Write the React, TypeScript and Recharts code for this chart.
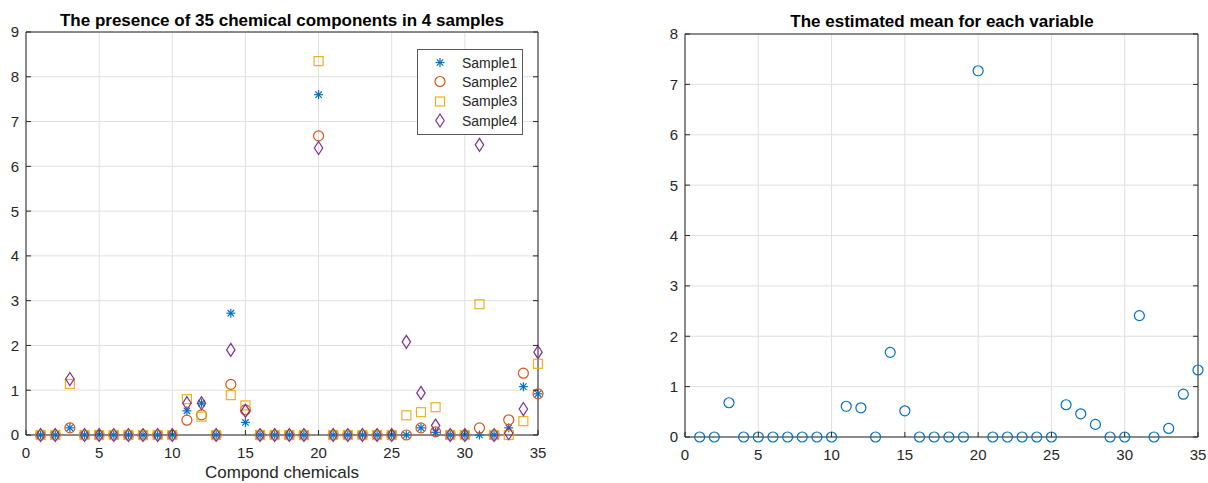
import React from 'react'
import { ScatterChart, Scatter, XAxis, YAxis, CartesianGrid, Legend } from 'recharts'

const compounds = [
  1, 2, 3, 4, 5, 6, 7, 8, 9, 10, 11, 12, 13, 14, 15, 16, 17, 18, 19, 20, 21, 22, 23, 24, 25, 26, 27, 28, 29, 30,
  31, 32, 33, 34, 35,
]

const sample1 = [
  0, 0, 0.16, 0, 0, 0, 0, 0, 0, 0, 0.54, 0.71, 0, 2.72, 0.28, 0, 0, 0, 0, 7.6, 0, 0, 0, 0, 0, 0, 0.16, 0.06, 0, 0,
  0, 0, 0.16, 1.08, 0.92,
]
const sample2 = [
  0, 0, 0.16, 0, 0, 0, 0, 0, 0, 0, 0.33, 0.45, 0, 1.13, 0.56, 0, 0, 0, 0, 6.68, 0, 0, 0, 0, 0, 0, 0.16, 0.07, 0, 0,
  0.16, 0, 0.34, 1.38, 0.92,
]
const sample3 = [
  0, 0, 1.14, 0, 0, 0, 0, 0, 0, 0, 0.8, 0.41, 0, 0.89, 0.66, 0, 0, 0, 0, 8.35, 0, 0, 0, 0, 0, 0.44, 0.51, 0.62, 0, 0,
  2.92, 0, 0, 0.31, 1.59,
]
const sample4 = [
  0, 0, 1.25, 0, 0, 0, 0, 0, 0, 0, 0.71, 0.71, 0, 1.9, 0.54, 0, 0, 0, 0, 6.41, 0, 0, 0, 0, 0, 2.08, 0.94, 0.21, 0, 0,
  6.48, 0, 0.04, 0.58, 1.85,
]
const meanValues = [
  0, 0, 0.68, 0, 0, 0, 0, 0, 0, 0, 0.61, 0.58, 0, 1.68, 0.52, 0, 0, 0, 0, 7.27, 0, 0, 0, 0, 0, 0.64, 0.46, 0.25, 0, 0,
  2.41, 0, 0.17, 0.85, 1.33,
]

const sampleNames = ['Sample1', 'Sample2', 'Sample3', 'Sample4']
const xTicks = [0, 5, 10, 15, 20, 25, 30, 35]
const leftYTicks = [0, 1, 2, 3, 4, 5, 6, 7, 8, 9]
const rightYTicks = [0, 1, 2, 3, 4, 5, 6, 7, 8]

const BLUE = '#0072BD'
const ORANGE = '#D95319'
const YELLOW = '#EDB120'
const PURPLE = '#7E2F8E'
const AXIS = '#262626'
const GRID = '#dfdfdf'
const FONT = '"Liberation Sans", Arial, Helvetica, sans-serif'

const toPoints = (values: number[]) => compounds.map((c, i) => ({ x: c, y: values[i] }))

type MarkKind = 'asterisk' | 'circle' | 'square' | 'diamond'

function drawMark(kind: MarkKind, cx: number, cy: number, color: string) {
  const sw = 1.2
  if (kind === 'asterisk') {
    const r = 4.5
    const d = 3.2
    return (
      <g stroke={color} strokeWidth={sw} fill="none">
        <line x1={cx - r} y1={cy} x2={cx + r} y2={cy} />
        <line x1={cx} y1={cy - r} x2={cx} y2={cy + r} />
        <line x1={cx - d} y1={cy - d} x2={cx + d} y2={cy + d} />
        <line x1={cx - d} y1={cy + d} x2={cx + d} y2={cy - d} />
      </g>
    )
  }
  if (kind === 'circle') {
    return <circle cx={cx} cy={cy} r={5} stroke={color} strokeWidth={sw} fill="none" />
  }
  if (kind === 'square') {
    return <rect x={cx - 4.5} y={cy - 4.5} width={9} height={9} stroke={color} strokeWidth={sw} fill="none" />
  }
  return (
    <polygon
      points={`${cx},${cy - 6.5} ${cx + 4.2},${cy} ${cx},${cy + 6.5} ${cx - 4.2},${cy}`}
      stroke={color}
      strokeWidth={sw}
      fill="none"
    />
  )
}

const series: { name: string; values: number[]; kind: MarkKind; color: string }[] = [
  { name: sampleNames[0], values: sample1, kind: 'asterisk', color: BLUE },
  { name: sampleNames[1], values: sample2, kind: 'circle', color: ORANGE },
  { name: sampleNames[2], values: sample3, kind: 'square', color: YELLOW },
  { name: sampleNames[3], values: sample4, kind: 'diamond', color: PURPLE },
]

// matlab style: ticks point into the box
function BottomTick({ x, y, payload }: any) {
  return (
    <g>
      <line x1={x} y1={y} x2={x} y2={y - 5} stroke={AXIS} />
      <text x={x} y={y + 23} textAnchor="middle" fill={AXIS} fontSize={15} fontFamily={FONT}>
        {payload.value}
      </text>
    </g>
  )
}

function LeftTick({ x, y, payload }: any) {
  return (
    <g>
      <line x1={x} y1={y} x2={x + 5} y2={y} stroke={AXIS} />
      <text x={x - 7} y={y} dy="0.36em" textAnchor="end" fill={AXIS} fontSize={15} fontFamily={FONT}>
        {payload.value}
      </text>
    </g>
  )
}

function TopTick({ x, y }: any) {
  return <line x1={x} y1={y} x2={x} y2={y + 5} stroke={AXIS} />
}

function RightTick({ x, y }: any) {
  return <line x1={x} y1={y} x2={x - 5} y2={y} stroke={AXIS} />
}

function SampleLegend() {
  return (
    <div
      style={{
        width: 104,
        height: 81,
        border: '1px solid #5a5a5a',
        background: '#fff',
        paddingTop: 3,
        boxSizing: 'content-box',
        fontFamily: FONT,
        fontSize: 14,
        color: AXIS,
      }}
    >
      {series.map((s) => (
        <div key={s.name} style={{ height: 19.3, display: 'flex', alignItems: 'center' }}>
          <svg width={44} height={19} style={{ flex: 'none' }}>
            {drawMark(s.kind, 22, 9.5, s.color)}
          </svg>
          <span>{s.name}</span>
        </div>
      ))}
    </div>
  )
}

const titleStyle: React.CSSProperties = {
  position: 'absolute',
  top: 11,
  height: 19,
  lineHeight: '19px',
  fontFamily: FONT,
  fontWeight: 'bold',
  fontSize: 17,
  color: '#000',
  textAlign: 'center',
  whiteSpace: 'nowrap',
}

export default function App() {
  return (
    <div style={{ position: 'absolute', left: 0, top: 0, width: 1208, height: 483, background: '#fff' }}>
      <div style={{ ...titleStyle, left: 0, width: 564 }}>The presence of 35 chemical components in 4 samples</div>
      <div style={{ ...titleStyle, top: 12, left: 600, width: 684 }}>The estimated mean for each variable</div>

      <div style={{ position: 'absolute', left: 0, top: 0 }}>
        <ScatterChart width={560} height={483} margin={{ top: 31, right: 21, bottom: 0, left: 25 }}>
          <CartesianGrid stroke={GRID} />
          <XAxis
            type="number"
            dataKey="x"
            domain={[0, 35]}
            ticks={xTicks}
            interval={0}
            height={48}
            tickSize={0}
            tickMargin={0}
            tickLine={false}
            tick={<BottomTick />}
            stroke={AXIS}
            label={{ value: 'Compond chemicals', position: 'insideBottom', offset: 5, fontSize: 17, fill: AXIS, fontFamily: FONT }}
          />
          <YAxis
            type="number"
            dataKey="y"
            domain={[0, 9]}
            ticks={leftYTicks}
            interval={0}
            width={1}
            tickSize={0}
            tickMargin={0}
            tickLine={false}
            tick={<LeftTick />}
            stroke={AXIS}
          />
          <XAxis
            xAxisId="top"
            orientation="top"
            type="number"
            domain={[0, 35]}
            ticks={xTicks}
            interval={0}
            height={1}
            tickSize={0}
            tickMargin={0}
            tickLine={false}
            tick={<TopTick />}
            stroke={AXIS}
            allowDataOverflow
          />
          <YAxis
            yAxisId="right"
            orientation="right"
            type="number"
            domain={[0, 9]}
            ticks={leftYTicks}
            interval={0}
            width={1}
            tickSize={0}
            tickMargin={0}
            tickLine={false}
            tick={<RightTick />}
            stroke={AXIS}
            allowDataOverflow
          />
          {series.map((s) => (
            <Scatter
              key={s.name}
              name={s.name}
              data={toPoints(s.values)}
              isAnimationActive={false}
              shape={(p: any) => drawMark(s.kind, p.cx, p.cy, s.color)}
            />
          ))}
          <Legend
            layout="vertical"
            align="center"
            verticalAlign="middle"
            content={<SampleLegend />}
            wrapperStyle={{ top: 49, left: 417, width: 106, height: 85 }}
          />
        </ScatterChart>
      </div>

      <div style={{ position: 'absolute', left: 600, top: 0 }}>
        <ScatterChart width={608} height={483} margin={{ top: 33, right: 9, bottom: 0, left: 84 }}>
          <CartesianGrid stroke={GRID} />
          <XAxis
            type="number"
            dataKey="x"
            domain={[0, 35]}
            ticks={xTicks}
            interval={0}
            height={46}
            tickSize={0}
            tickMargin={0}
            tickLine={false}
            tick={<BottomTick />}
            stroke={AXIS}
          />
          <YAxis
            type="number"
            dataKey="y"
            domain={[0, 8]}
            ticks={rightYTicks}
            interval={0}
            width={1}
            tickSize={0}
            tickMargin={0}
            tickLine={false}
            tick={<LeftTick />}
            stroke={AXIS}
          />
          <XAxis
            xAxisId="top"
            orientation="top"
            type="number"
            domain={[0, 35]}
            ticks={xTicks}
            interval={0}
            height={1}
            tickSize={0}
            tickMargin={0}
            tickLine={false}
            tick={<TopTick />}
            stroke={AXIS}
            allowDataOverflow
          />
          <YAxis
            yAxisId="right"
            orientation="right"
            type="number"
            domain={[0, 8]}
            ticks={rightYTicks}
            interval={0}
            width={1}
            tickSize={0}
            tickMargin={0}
            tickLine={false}
            tick={<RightTick />}
            stroke={AXIS}
            allowDataOverflow
          />
          <Scatter
            name="Mean"
            data={toPoints(meanValues)}
            isAnimationActive={false}
            shape={(p: any) => drawMark('circle', p.cx, p.cy, BLUE)}
          />
        </ScatterChart>
      </div>
    </div>
  )
}
